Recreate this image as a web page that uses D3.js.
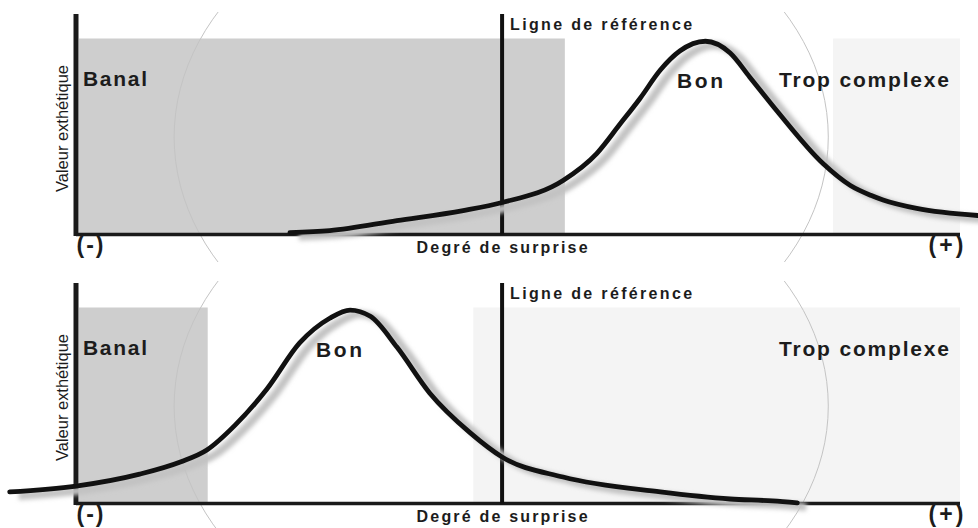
<!DOCTYPE html>
<html>
<head>
<meta charset="utf-8">
<script src="https://cdn.jsdelivr.net/npm/d3@7"></script>
<style>
  body { margin: 0; background: #fff; }
  text { font-family: "Liberation Sans", Arial, sans-serif; fill: #1c1c1c; }
</style>
</head>
<body>
<div id="chart"></div>
<script>
// degré de surprise (0 = axe vertical, 100 = bout de l'axe), valeur 0..100
const topCurveX = [24.2, 28.7, 36.3, 43.8, 48.2, 55.1, 58.9, 61.5, 63.8, 66.1, 68.3, 71.2, 74.0, 76.2, 79.3, 84.5, 87.6, 89.9, 91.3, 95.1, 102.0];
const topCurveY = [1.0, 2.0, 7.1, 12.2, 16.3, 27.6, 41.3, 56.1, 69.4, 83.9, 93.6, 98.6, 92.6, 80.4, 63.0, 36.2, 25.0, 20.0, 17.6, 13.3, 9.7];
const bottomCurveX = [-7.5, 0, 7.2, 11.8, 14.8, 18.0, 21.6, 25.3, 28.7, 31.0, 33.3, 36.3, 40.0, 44.6, 48.2, 55.1, 66.1, 74.0, 78.8, 81.6];
const bottomCurveY = [5.9, 8.9, 15.0, 21.2, 27.3, 40.0, 58.4, 81.9, 94.5, 98.7, 95.5, 79.8, 56.4, 36.0, 23.7, 13.5, 5.9, 2.3, 1.3, 0.3];

const zoneNames = ["Banal", "Trop complexe"];
const topZones = [[0, 55.3], [85.3, 100]];
const bottomZones = [[0, 14.9], [44.6, 100]];
const referenceX = 48.2;

const W = 978, H = 528;
const svg = d3.select("#chart").append("svg")
    .attr("width", W)
    .attr("height", H);

const defs = svg.append("defs");
defs.append("filter").attr("id", "blur")
    .attr("x", "-10%").attr("y", "-10%").attr("width", "120%").attr("height", "120%")
  .append("feGaussianBlur").attr("stdDeviation", 2);

const x = d3.scaleLinear().domain([0, 100]).range([76, 960]);

const drawPanel = (dy, curveX, curveY, zones, bonX, idx) => {
  const y = d3.scaleLinear().domain([0, 100]).range([234.5 + dy, 38.5 + dy]);
  const g = svg.append("g");

  // zones grises
  g.selectAll("rect.zone")
    .data(zones)
    .enter().append("rect")
      .attr("class", "zone")
      .attr("x", d => x(d[0]) + 3)
      .attr("width", d => x(d[1]) - x(d[0]) - 3)
      .attr("y", y(100))
      .attr("height", y(0) - y(100))
      .attr("fill", (d, i) => i === 0 ? "#cecece" : "#f4f4f4");

  // grand cercle en fond
  const clipId = "clip" + idx;
  defs.append("clipPath").attr("id", clipId)
    .append("rect").attr("x", 0).attr("width", W)
      .attr("y", dy + 12).attr("height", 250);
  g.append("ellipse")
      .attr("cx", x(48.1))
      .attr("cy", y(49.7))
      .attr("rx", x(37) - x(0))
      .attr("ry", y(0) - y(127.5))
      .attr("fill", "none")
      .attr("stroke", "#c4c4c4")
      .attr("stroke-width", 1)
      .attr("clip-path", "url(#" + clipId + ")");

  // axes
  g.append("line")
      .attr("x1", x(0)).attr("x2", x(0))
      .attr("y1", y(112.5)).attr("y2", y(0) + 1.5)
      .attr("stroke", "#1a1a1a").attr("stroke-width", 5);
  g.append("line")
      .attr("x1", x(0)).attr("x2", x(100))
      .attr("y1", y(0)).attr("y2", y(0))
      .attr("stroke", "#1a1a1a").attr("stroke-width", 3.5);
  g.append("line")
      .attr("x1", x(referenceX)).attr("x2", x(referenceX))
      .attr("y1", y(112.5)).attr("y2", y(0))
      .attr("stroke", "#111").attr("stroke-width", 4);

  // courbe + ombre
  const pts = curveX.map((v, i) => [v, curveY[i]]);
  const line = d3.line()
      .x(d => x(d[0]))
      .y(d => y(d[1]))
      .curve(d3.curveMonotoneX);
  g.append("path")
      .attr("d", line(pts))
      .attr("fill", "none")
      .attr("stroke", "#c2c2c2")
      .attr("stroke-width", 8)
      .attr("transform", "translate(9,4)")
      .attr("filter", "url(#blur)");
  g.append("path")
      .attr("d", line(pts))
      .attr("fill", "none")
      .attr("stroke", "#111")
      .attr("stroke-width", 4.8)
      .attr("stroke-linecap", "round");

  // textes
  const label = (txt, tx, ty, size, len, anchor) => {
    const t = g.append("text")
        .attr("x", tx).attr("y", ty)
        .attr("font-size", size)
        .attr("font-weight", "bold")
        .attr("text-anchor", anchor || "start")
        .attr("textLength", len)
        .attr("lengthAdjust", "spacing")
        .text(txt);
    return t;
  };
  label("Ligne de référence", x(referenceX) + 8, dy + 30, 16, 182);
  label(zoneNames[0], 83, dy + 86, 21, 64);
  label("Bon", bonX, dy + 88, 21, 46);
  label(zoneNames[1], 779, dy + 87, 21, 170);
  label("Degré de surprise", x(referenceX), dy + 253, 16, 171, "middle");
  label("(-)", 90, dy + 253, 23, 27, "middle");
  label("(+)", 946, dy + 253, 23, 35, "middle");

  g.append("text")
      .attr("transform", "translate(" + 68 + "," + (dy + 128.5) + ") rotate(-90)")
      .attr("text-anchor", "middle")
      .attr("font-size", 17)
      .attr("textLength", 127)
      .attr("lengthAdjust", "spacingAndGlyphs")
      .text("Valeur exthétique");
};

drawPanel(0, topCurveX, topCurveY, topZones, 677, 0);
drawPanel(269, bottomCurveX, bottomCurveY, bottomZones, 316, 1);
</script>
</body>
</html>
